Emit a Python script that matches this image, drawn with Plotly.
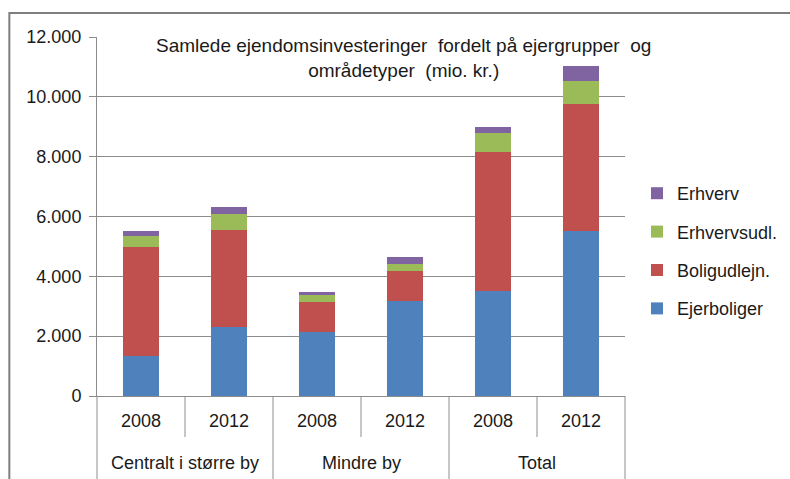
import plotly.graph_objects as go

# categories (outer group, inner year)
group_names = ["Centralt i større by", "Mindre by", "Total"]
groups = ["Centralt i større by", "Centralt i større by", "Mindre by", "Mindre by", "Total", "Total"]
years = ["2008", "2012", "2008", "2012", "2008", "2012"]

# mio. kr.
ejerboliger = [1340, 2300, 2150, 3180, 3520, 5520]
boligudlejn = [3650, 3250, 1000, 1010, 4630, 4225]
erhvervsudl = [370, 545, 235, 225, 636, 800]
erhverv = [170, 225, 90, 245, 211, 470]

series = [
    ("Ejerboliger", ejerboliger, "#4F81BD"),
    ("Boligudlejn.", boligudlejn, "#C0504D"),
    ("Erhvervsudl.", erhvervsudl, "#9BBB59"),
    ("Erhverv", erhverv, "#8064A2"),
]

FONT = "Liberation Sans, Arial, sans-serif"
TEXT = "#1a1a1a"
GRID = "#8C8C8C"

# plot area in pixels
L, R, T, B = 97, 627, 37, 396
W, H = 790, 479


def px_x(x):
    return (x - L) / (R - L)


def px_y(y):
    return (B - y) / (B - T)


cats = [f"{g} {y}" for g, y in zip(groups, years)]

fig = go.Figure()
for i, (name, vals, color) in enumerate(series):
    fig.add_trace(go.Bar(
        x=cats, y=vals, name=name,
        marker=dict(color=color, line=dict(width=0)),
        legendgroup=name, legendrank=len(series) - i,
    ))

fig.update_layout(
    width=W, height=H,
    barmode="stack", bargap=0.59,
    separators=",.",
    paper_bgcolor="white", plot_bgcolor="white",
    font=dict(family=FONT, color=TEXT, size=18),
    margin=dict(l=L, r=W - R, t=T, b=H - B, pad=0),
    showlegend=True,
    # container refs so the legend does not push the plot margin
    legend=dict(
        xref="container", yref="container",
        x=637 / W, y=(H - 175) / H, xanchor="left", yanchor="top",
        traceorder="grouped", tracegroupgap=12,
        font=dict(size=18), bgcolor="rgba(0,0,0,0)",
    ),
)

fig.update_yaxes(
    range=[0, 12000], dtick=2000, tickformat=",d",
    showgrid=True, gridcolor=GRID, gridwidth=1,
    showline=True, linecolor=GRID, linewidth=1,
    ticks="outside", ticklen=7, tickcolor=GRID,
    ticklabelstandoff=4, zeroline=False,
    tickfont=dict(size=18),
)
fig.update_xaxes(
    type="category", tickvals=cats, ticktext=years,
    showline=True, linecolor=GRID, linewidth=1,
    ticks="", ticklabelstandoff=8,
    tickfont=dict(size=18),
)

# outer category labels
for k, g in enumerate(group_names):
    fig.add_annotation(
        xref="x", yref="paper", x=2 * k + 0.5, y=px_y(463), yanchor="middle",
        text=g, showarrow=False, font=dict(size=18, family=FONT, color=TEXT),
    )

# short separators between years, long separators between groups
for xv in [0.5, 2.5, 4.5]:
    fig.add_shape(type="line", xref="x", yref="paper", x0=xv, x1=xv,
                  y0=0, y1=px_y(437), line=dict(color=GRID, width=1))
for xv in [1.5, 3.5]:
    fig.add_shape(type="line", xref="x", yref="paper", x0=xv, x1=xv,
                  y0=0, y1=px_y(479), line=dict(color=GRID, width=1))
for xv in [0, 1]:
    fig.add_shape(type="line", xref="paper", yref="paper", x0=xv, x1=xv,
                  y0=0, y1=px_y(479), line=dict(color=GRID, width=1))

# title inside the plot area
fig.add_annotation(
    xref="paper", yref="paper", x=px_x(405), y=px_y(58), xanchor="center", yanchor="middle",
    text="Samlede ejendomsinvesteringer  fordelt på ejergrupper  og<br>områdetyper  (mio. kr.)",
    showarrow=False, font=dict(size=19, family=FONT, color=TEXT), align="center",
)

# outer frame of the chart
fig.add_shape(
    type="rect", xref="paper", yref="paper",
    x0=px_x(9), x1=px_x(800), y0=px_y(490), y1=px_y(13),
    line=dict(color="#7F7F7F", width=2), layer="above",
)

fig.write_html("out.html", config={"displayModeBar": False},
               post_script="document.body.style.margin='0';")
